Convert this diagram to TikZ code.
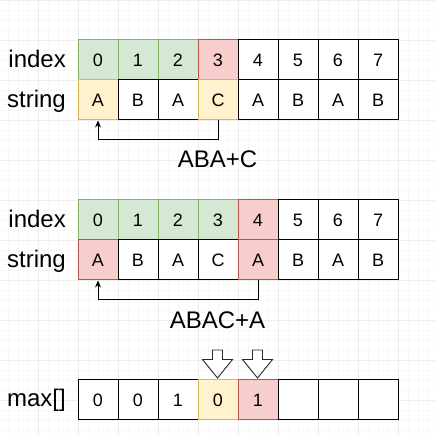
\documentclass[tikz,border=0pt]{standalone}
\usepackage{fontspec}
\setmainfont{Liberation Sans}
\usetikzlibrary{arrows.meta}
\definecolor{gfill}{HTML}{D5E8D4}\definecolor{gline}{HTML}{82B366}
\definecolor{rfill}{HTML}{F8CECC}\definecolor{rline}{HTML}{B85450}
\definecolor{yfill}{HTML}{FFF2CC}\definecolor{yline}{HTML}{D6B656}
\definecolor{minorgrid}{HTML}{F7F7F7}\definecolor{majorgrid}{HTML}{EDEDED}
\tikzset{
  cell/.style={draw=black,fill=white,line width=1pt,minimum width=40pt,minimum height=40pt,inner sep=0pt,font=\fontsize{18}{20}\selectfont},
  gcell/.style={cell,draw=gline,fill=gfill},
  rcell/.style={cell,draw=rline,fill=rfill},
  ycell/.style={cell,draw=yline,fill=yfill},
  rowlabel/.style={anchor=base east,inner sep=0pt,font=\fontsize{24}{28}\selectfont},
  biglabel/.style={anchor=base,inner sep=0pt,font=\fontsize{24}{28}\selectfont},
  link/.style={line width=1pt,-{Stealth[length=7pt,width=6pt]}},
  hollow/.style={draw=black!85,fill=white,line width=0.9pt,line join=miter}
}
\begin{document}
\begin{tikzpicture}[x=1pt,y=1pt]
\fill[white] (0,0) rectangle (435,436);
\useasboundingbox (0,0) rectangle (435,436);
% background grid
\foreach \x in {8,18,...,438} \draw[minorgrid,line width=0.5pt] (\x,0) -- (\x,436);
\foreach \y in {6,16,...,436} \draw[minorgrid,line width=0.5pt] (0,\y) -- (435,\y);
\foreach \x in {38,78,...,438} \draw[majorgrid,line width=0.6pt] (\x,0) -- (\x,436);
\foreach \y in {36,76,...,436} \draw[majorgrid,line width=0.6pt] (0,\y) -- (435,\y);

% ---- table 1 ----
\node[rowlabel] (la1) at (66,368.3) {index};
\node[rowlabel] (lb1) at (66,328.3) {string};
\node[gcell] (a0) at (98,376) {0};
\node[gcell] (a1) at (138,376) {1};
\node[gcell] (a2) at (178,376) {2};
\node[rcell] (a3) at (218,376) {3};
\node[cell] (a4) at (258,376) {4};
\node[cell] (a5) at (298,376) {5};
\node[cell] (a6) at (338,376) {6};
\node[cell] (a7) at (378,376) {7};
\node[ycell] (b0) at (98,336) {A};
\node[cell] (b1) at (138,336) {B};
\node[cell] (b2) at (178,336) {A};
\node[ycell] (b3) at (218,336) {C};
\node[cell] (b4) at (258,336) {A};
\node[cell] (b5) at (298,336) {B};
\node[cell] (b6) at (338,336) {A};
\node[cell] (b7) at (378,336) {B};
\draw[link] (b3.south) -- ++(0,-19.5) -| (b0.south);
\node[biglabel] (t1) at (217.5,268) {ABA+C};

% ---- table 2 ----
\node[rowlabel] (la2) at (66,208.3) {index};
\node[rowlabel] (lb2) at (66,168.3) {string};
\node[gcell] (c0) at (98,216) {0};
\node[gcell] (c1) at (138,216) {1};
\node[gcell] (c2) at (178,216) {2};
\node[gcell] (c3) at (218,216) {3};
\node[rcell] (c4) at (258,216) {4};
\node[cell] (c5) at (298,216) {5};
\node[cell] (c6) at (338,216) {6};
\node[cell] (c7) at (378,216) {7};
\node[rcell] (d0) at (98,176) {A};
\node[cell] (d1) at (138,176) {B};
\node[cell] (d2) at (178,176) {A};
\node[cell] (d3) at (218,176) {C};
\node[rcell] (d4) at (258,176) {A};
\node[cell] (d5) at (298,176) {B};
\node[cell] (d6) at (338,176) {A};
\node[cell] (d7) at (378,176) {B};
\draw[link] (d4.south) -- ++(0,-19.5) -| (d0.south);
\node[biglabel] (t2) at (217.5,107.7) {ABAC+A};

% ---- max row ----
\node[rowlabel] (lm) at (66,29.3) {max[]};
\node[cell] (m0) at (98,36) {0};
\node[cell] (m1) at (138,36) {0};
\node[cell] (m2) at (178,36) {1};
\node[ycell] (m3) at (218,36) {0};
\node[rcell] (m4) at (258,36) {1};
\node[cell] (m5) at (298,36) {};
\node[cell] (m6) at (338,36) {};
\node[cell] (m7) at (378,36) {};

% hollow down arrows
\foreach \cx in {217.5,257.5}
  \draw[hollow] (\cx-5,86) -- (\cx+5,86) -- (\cx+5,76.5) -- (\cx+15,76.5)
     -- (\cx,58) -- (\cx-15,76.5) -- (\cx-5,76.5) -- cycle;
\end{tikzpicture}
\end{document}
